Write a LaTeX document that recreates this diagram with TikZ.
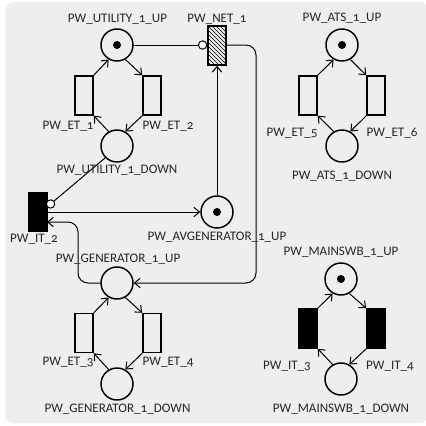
\documentclass[tikz,border=0pt]{standalone}
\usepackage{fontspec}
\setmainfont[Numbers=OldStyle]{Carlito}
\usetikzlibrary{arrows.meta,patterns}
\definecolor{panelgray}{RGB}{237,239,239}
\tikzset{
  place/.style={draw,circle,line width=1.1pt,minimum size=24pt,inner sep=0pt},
  tok/.style={fill,circle,minimum size=6pt,inner sep=0pt},
  etrans/.style={draw,rectangle,line width=1.1pt,minimum width=13.5pt,minimum height=29.25pt,inner sep=0pt},
  itrans/.style={etrans,fill=black},
  ntrans/.style={etrans,pattern=north west lines},
  lbl/.style={inner sep=0pt,yshift=-0.75pt,text=black!85,font=\fontsize{9.8}{11}\selectfont},
  arc/.style={line width=0.75pt,-{Straight Barb[length=4.2pt,width=7pt]}},
  inhib/.style={line width=0.75pt,-{Circle[open,fill=white,length=7pt,width=7pt,line width=0.75pt]}}
}
\begin{document}
\begin{tikzpicture}[x=0.75pt,y=0.75pt,yscale=-1,xscale=1]
\useasboundingbox (0,0) rectangle (426,426);

% Panel
\fill [panelgray,rounded corners=6pt] (5,2) -- (428,2) -- (428,423) -- (5,423) -- cycle ;

% Places
\node [place] (utilup) at (117,45) {};
\node [place] (utildown) at (117,146) {};
\node [place] (genup) at (117,283) {};
\node [place] (gendown) at (117,384) {};
\node [place] (avgen) at (217,212) {};
\node [place] (atsup) at (342,45) {};
\node [place] (atsdown) at (342,146) {};
\node [place] (mainup) at (341,279) {};
\node [place] (maindown) at (341,379) {};

% Tokens
\node [tok] (utiltok) at (utilup) {};
\node [tok] (avgentok) at (avgen) {};
\node [tok] (atstok) at (atsup) {};
\node [tok] (maintok) at (mainup) {};

% Transitions
\node [etrans] (et1) at (84,95.5) {};
\node [etrans] (et2) at (152,95.5) {};
\node [etrans] (et3) at (84,333) {};
\node [etrans] (et4) at (152,333) {};
\node [etrans] (et5) at (308,95.5) {};
\node [etrans] (et6) at (376,95.5) {};
\node [itrans] (it2) at (38,212) {};
\node [itrans] (it3) at (308,328.5) {};
\node [itrans] (it4) at (376,328.5) {};
\node [ntrans] (net1) at (217,45.5) {};
\coordinate (it2top) at (47,207);
\coordinate (it2low) at (47,222);
\coordinate (netright) at (226,45);

% Arcs
\draw [arc] (et1.north east) -- (utilup.240);
\draw [arc] (utilup.-60) -- (et2.north west);
\draw [arc] (et2.south west) -- (utildown.60);
\draw [arc] (utildown.120) -- (et1.south east);
\draw [arc] (et3.north east) -- (genup.240);
\draw [arc] (genup.-60) -- (et4.north west);
\draw [arc] (et4.south west) -- (gendown.60);
\draw [arc] (gendown.120) -- (et3.south east);
\draw [arc] (et5.north east) -- (atsup.240);
\draw [arc] (atsup.-60) -- (et6.north west);
\draw [arc] (et6.south west) -- (atsdown.60);
\draw [arc] (atsdown.120) -- (et5.south east);
\draw [arc] (it3.north east) -- (mainup.240);
\draw [arc] (mainup.-60) -- (it4.north west);
\draw [arc] (it4.south west) -- (maindown.60);
\draw [arc] (maindown.120) -- (it3.south east);
\draw [inhib] (utilup.east) -- (net1.west |- utilup.east);
\draw [inhib] (utildown.225) -- (it2top);
\draw [arc] (it2.east) -- (avgen.west);
\draw [arc] (avgen.north) -- (net1.south);
\draw [arc,rounded corners=7.5pt] (netright) -- (256,45) -- (256,283) -- (genup.east);
\draw [arc,rounded corners=7.5pt] (genup.west) -- (78,283) -- (78,222) -- (it2low);

% Text Node
\node [lbl] (lutilup) at (117.5,18) {PW\_UTILITY\_1\_UP};
\node [lbl] (lutildown) at (117,169) {PW\_UTILITY\_1\_DOWN};
\node [lbl] (lnet1) at (217,18) {PW\_NET\_1};
\node [lbl] (let1) at (68,125) {PW\_ET\_1};
\node [lbl] (let2) at (168,125) {PW\_ET\_2};
\node [lbl] (lit2) at (34,238) {PW\_IT\_2};
\node [lbl] (lavgen) at (217,236) {PW\_AVGENERATOR\_1\_UP};
\node [lbl] (lgenup) at (118,258) {PW\_GENERATOR\_1\_UP};
\node [lbl] (let3) at (68,361) {PW\_ET\_3};
\node [lbl] (let4) at (168,361) {PW\_ET\_4};
\node [lbl] (lgendown) at (117.5,408) {PW\_GENERATOR\_1\_DOWN};
\node [lbl] (latsup) at (342,17) {PW\_ATS\_1\_UP};
\node [lbl] (let5) at (292,132) {PW\_ET\_5};
\node [lbl] (let6) at (392,132) {PW\_ET\_6};
\node [lbl] (latsdown) at (342,175) {PW\_ATS\_1\_DOWN};
\node [lbl] (lmainup) at (341,251) {PW\_MAINSWB\_1\_UP};
\node [lbl] (lit3) at (287,365) {PW\_IT\_3};
\node [lbl] (lit4) at (390,365) {PW\_IT\_4};
\node [lbl] (lmaindown) at (341,408) {PW\_MAINSWB\_1\_DOWN};
\end{tikzpicture}
\end{document}
